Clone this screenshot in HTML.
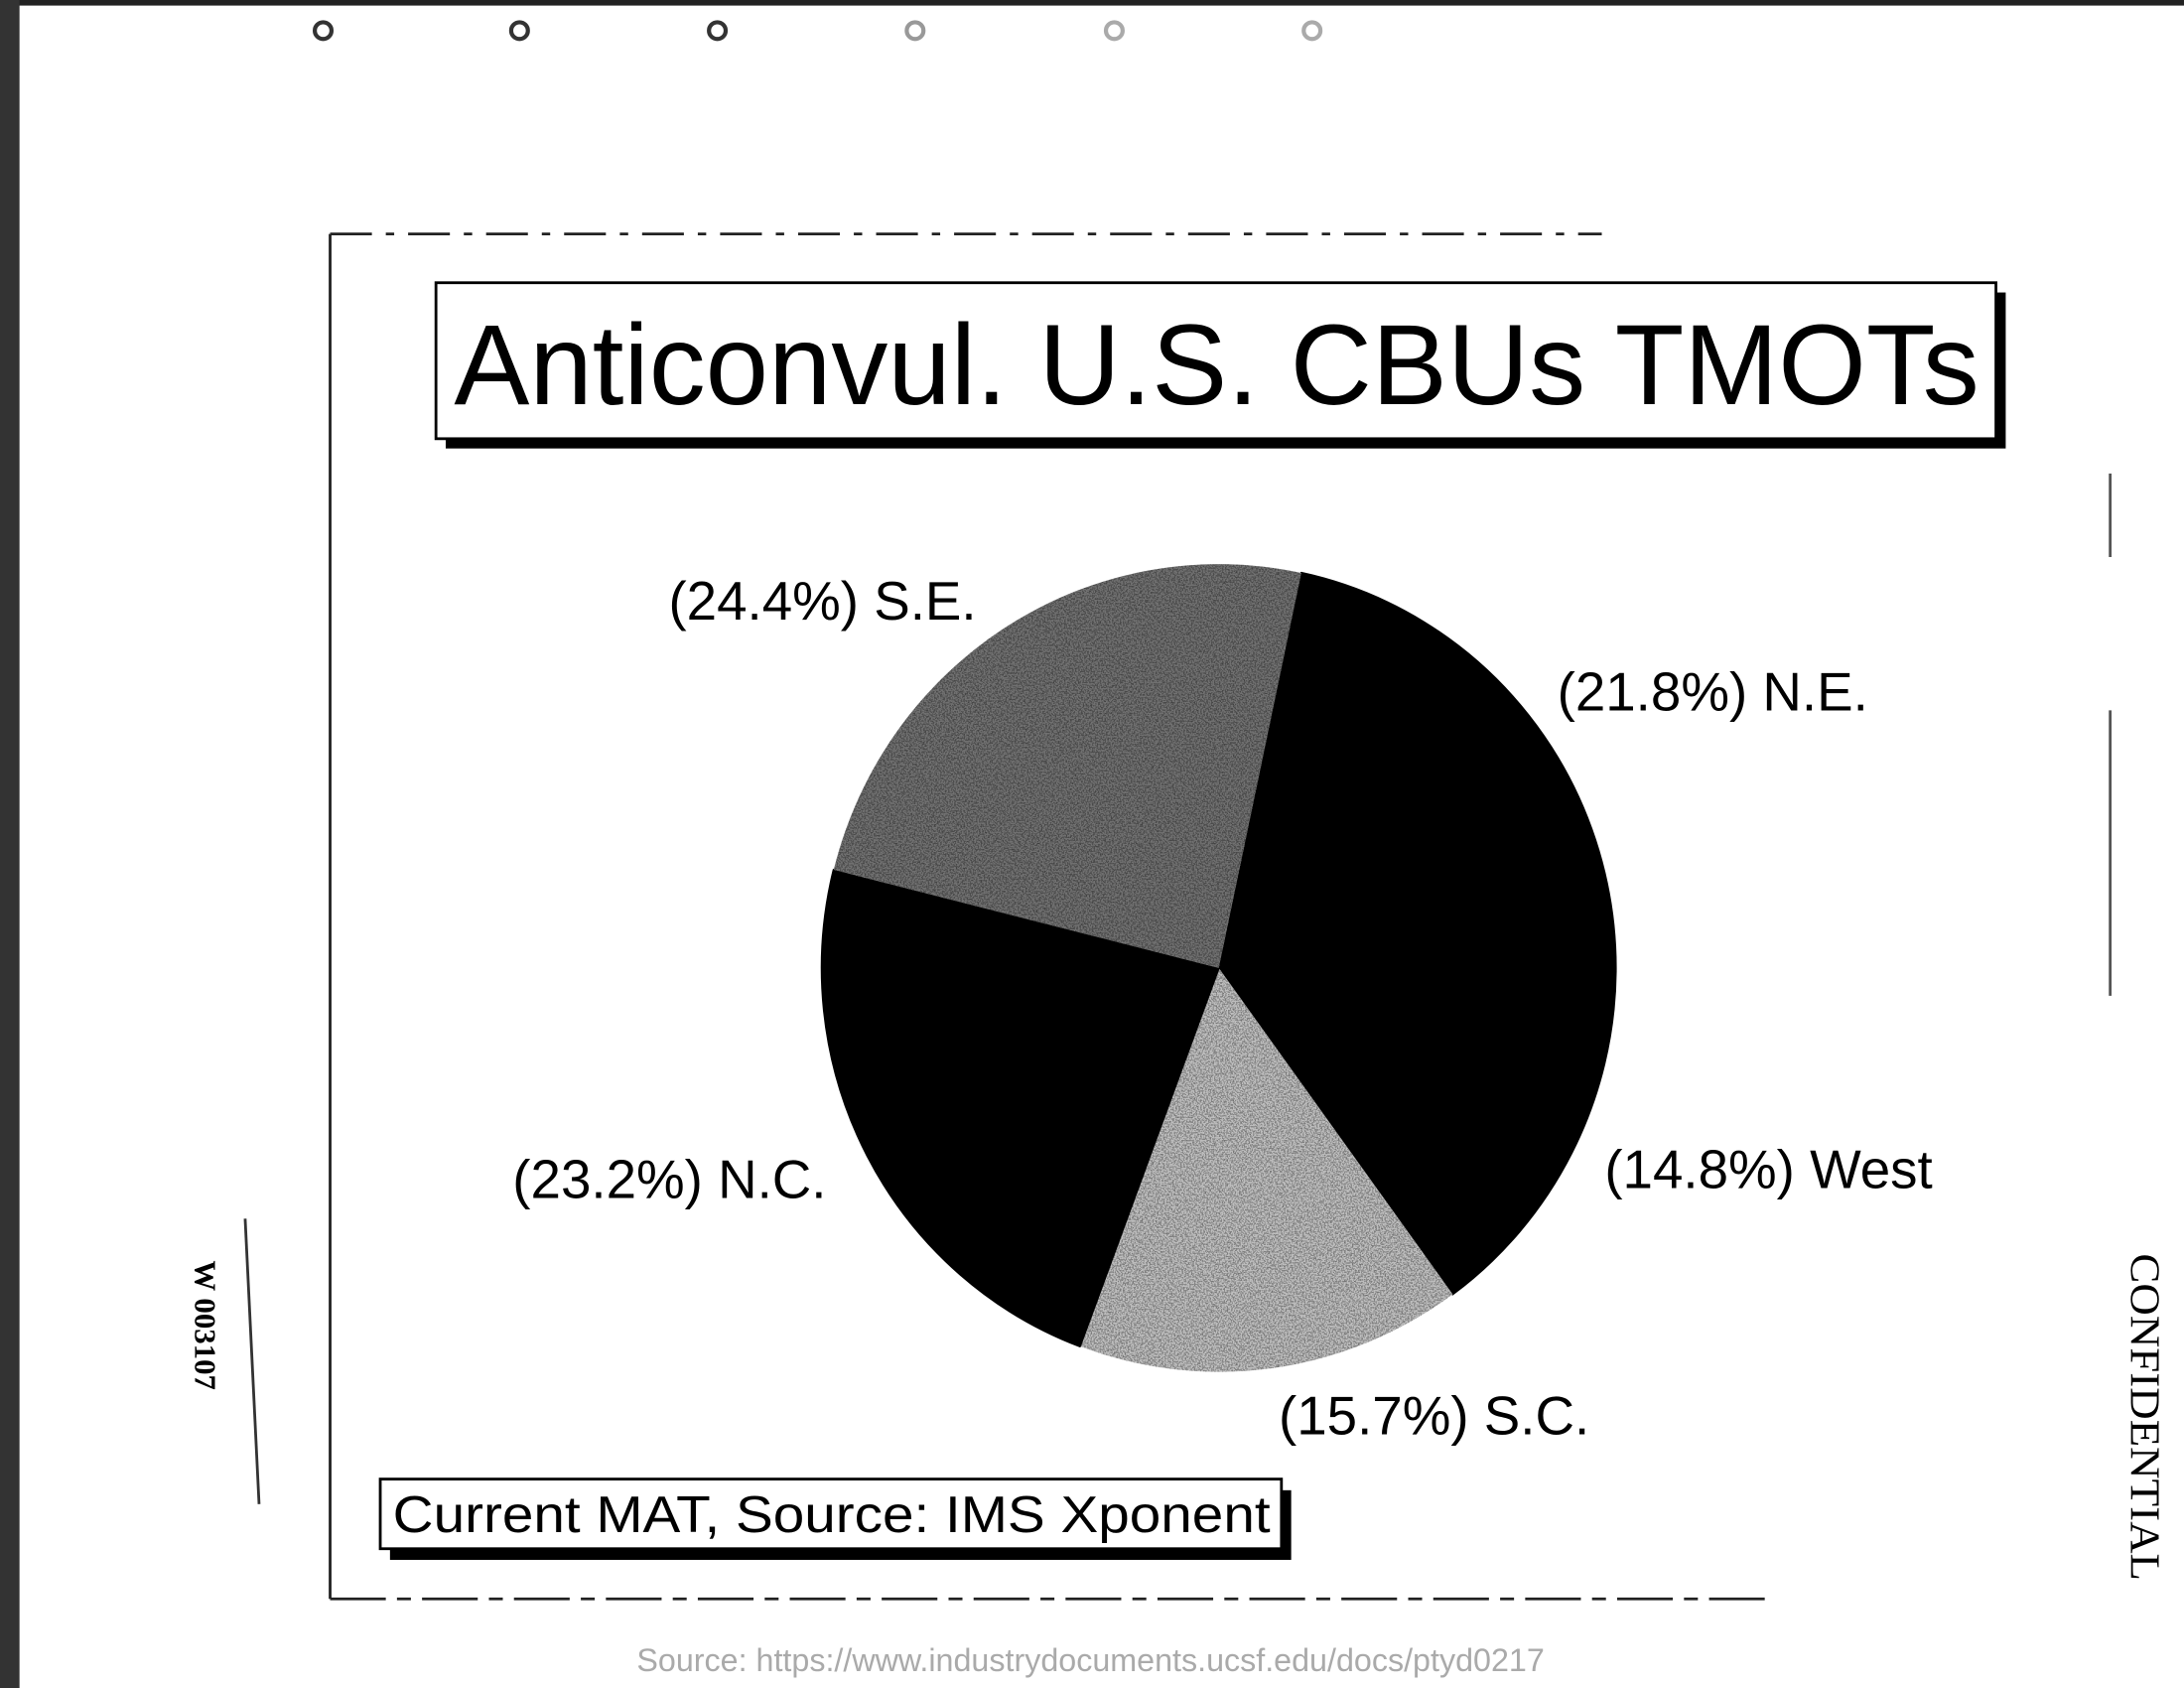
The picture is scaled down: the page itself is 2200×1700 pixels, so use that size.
<!DOCTYPE html>
<html><head><meta charset="utf-8"><style>
html,body{margin:0;padding:0;background:#fff;}
svg{display:block;}
</style></head><body>
<svg width="2200" height="1700" viewBox="0 0 1568 1212" preserveAspectRatio="none" xmlns="http://www.w3.org/2000/svg" font-family="Liberation Sans, sans-serif">
<defs>
<filter id="speck" x="0" y="0" width="1" height="1">
<feTurbulence type="fractalNoise" baseFrequency="0.9" numOctaves="1" seed="3"/>
<feColorMatrix type="saturate" values="0"/>
<feComponentTransfer><feFuncA type="discrete" tableValues="0 1"/></feComponentTransfer>
<feComposite in2="SourceGraphic" operator="in"/>
<feBlend in2="SourceGraphic" mode="multiply"/>
</filter>
</defs>
<rect width="1568" height="1212" fill="#fff"/>
<rect x="0" y="0" width="1568" height="4" fill="#222"/>
<rect x="0" y="0" width="14" height="1212" fill="#333"/>
<g fill="#fff" stroke="#333" stroke-width="3">
<circle cx="232" cy="22" r="6"/><circle cx="373" cy="22" r="6"/><circle cx="515" cy="22" r="6"/><circle cx="657" cy="22" r="6" stroke="#999"/><circle cx="800" cy="22" r="6" stroke="#aaa"/><circle cx="942" cy="22" r="6" stroke="#aaa"/>
</g>
<g stroke="#222" stroke-width="2" fill="none">
<line x1="237" y1="168" x2="1150" y2="168" stroke-dasharray="30 10 6 10"/>
<line x1="237" y1="168" x2="237" y2="1148"/>
<line x1="237" y1="1148" x2="1270" y2="1148" stroke-dasharray="40 8 10 8"/>
</g>
<g>
<rect x="320" y="210" width="1120" height="112" fill="#000"/>
<rect x="313" y="203" width="1120" height="112" fill="#fff" stroke="#000" stroke-width="2"/>
<text x="326" y="290" font-size="82" textLength="1095" lengthAdjust="spacingAndGlyphs">Anticonvul. U.S. CBUs TMOTs</text>
</g>
<g id="pie"></g>
<g font-size="39" fill="#000">
<text x="480" y="445">(24.4%) S.E.</text>
<text x="1118" y="510">(21.8%) N.E.</text>
<text x="1152" y="853">(14.8%) West</text>
<text x="368" y="860">(23.2%) N.C.</text>
<text x="918" y="1030">(15.7%) S.C.</text>
</g>
<g>
<rect x="280" y="1070" width="647" height="50" fill="#000"/>
<rect x="273" y="1062" width="647" height="50" fill="#fff" stroke="#000" stroke-width="2"/>
<text x="282" y="1100" font-size="37" textLength="630" lengthAdjust="spacingAndGlyphs">Current MAT, Source: IMS Xponent</text>
</g>
<text transform="translate(1530,900) rotate(90)" font-family="Liberation Serif, serif" font-size="30" textLength="235" lengthAdjust="spacingAndGlyphs">CONFIDENTIAL</text>
<text transform="translate(140,905) rotate(90)" font-family="Liberation Serif, serif" font-size="22" font-weight="bold">W 003107</text>
<line x1="176" y1="875" x2="186" y2="1080" stroke="#333" stroke-width="2"/>
<line x1="1515" y1="340" x2="1515" y2="400" stroke="#555" stroke-width="2"/>
<line x1="1515" y1="510" x2="1515" y2="715" stroke="#555" stroke-width="2"/>
<text x="783" y="1200" font-size="23" fill="#aaa" text-anchor="middle">Source: https://www.industrydocuments.ucsf.edu/docs/ptyd0217</text>
</svg>
<script>
const categories = ['N.E.', 'West', 'S.C.', 'N.C.', 'S.E.'];
const values = [21.8, 14.8, 15.7, 23.2, 24.4];
const fills = ['#000', '#000', '#bdbdbd', '#000', '#707070'];
const cx = 875, cy = 695, rx = 285, ry = 290, startDeg = 12;
const total = values.reduce((a, b) => a + b, 0);
const g = document.getElementById('pie');
const ns = 'http://www.w3.org/2000/svg';
let a = startDeg;
function pt(deg) { const r = deg * Math.PI / 180; return [cx + rx * Math.sin(r), cy - ry * Math.cos(r)]; }
values.forEach((v, i) => {
  const sweep = v / total * 360;
  const p0 = pt(a), p1 = pt(a + sweep);
  const large = sweep > 180 ? 1 : 0;
  const path = document.createElementNS(ns, 'path');
  path.setAttribute('d', `M${cx},${cy} L${p0[0]},${p0[1]} A${rx},${ry} 0 ${large} 1 ${p1[0]},${p1[1]} Z`);
  path.setAttribute('fill', fills[i]);
  if (fills[i] !== '#000') path.setAttribute('filter', 'url(#speck)');
  else { path.setAttribute('stroke', '#000'); path.setAttribute('stroke-width', '1.5'); path.setAttribute('stroke-linejoin', 'round'); }
  
  
  g.appendChild(path);
  a += sweep;
});
</script>
</body></html>
